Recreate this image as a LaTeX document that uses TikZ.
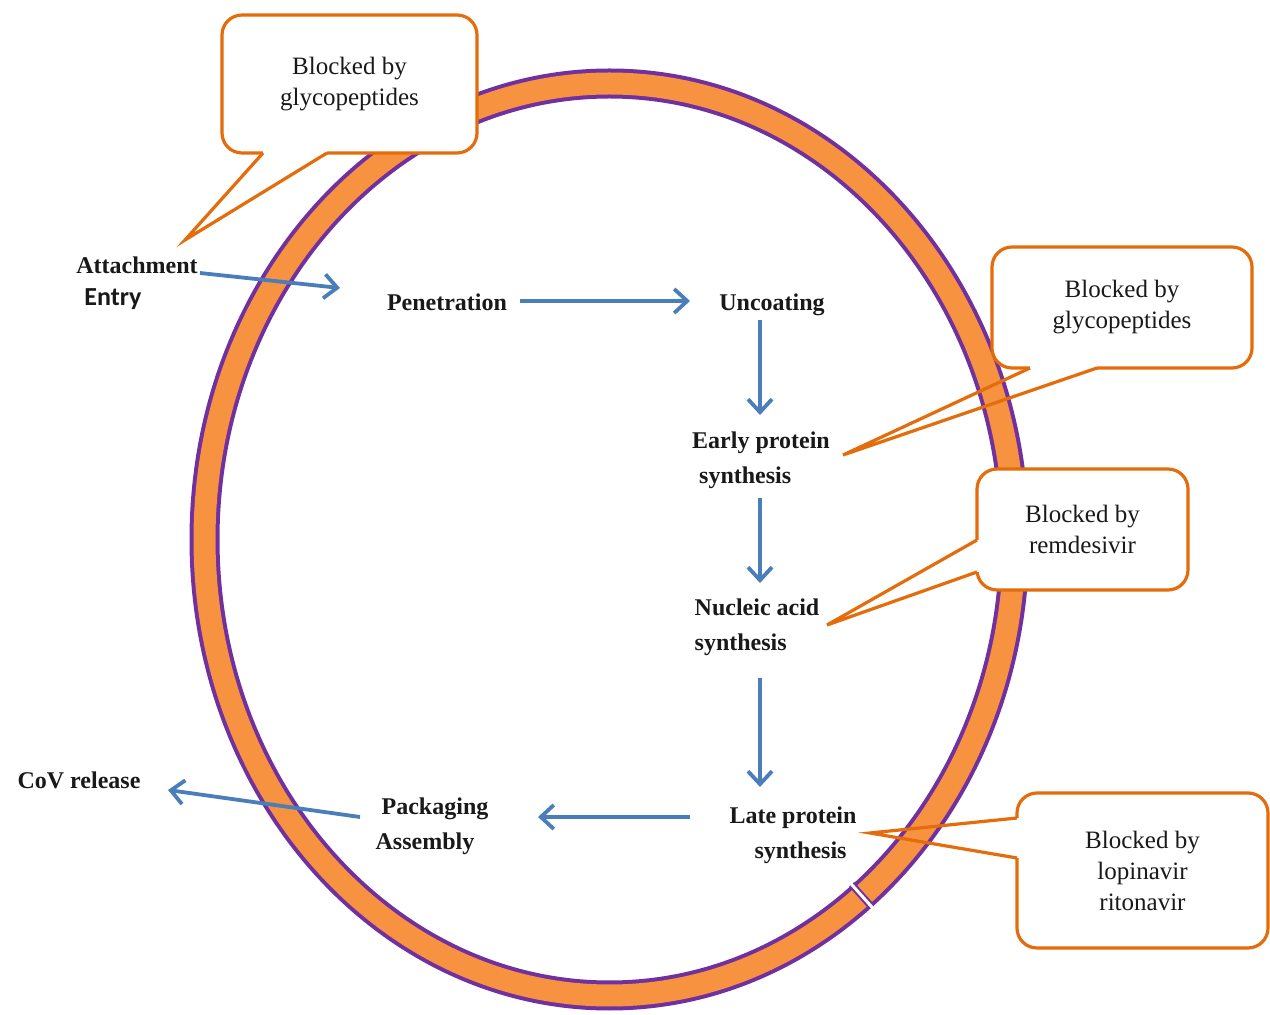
\documentclass[tikz,border=0pt]{standalone}
\usepackage{fontspec}
\setmainfont{Liberation Serif}
\newfontfamily\carl{Carlito}
\usetikzlibrary{arrows.meta,calc}
\definecolor{ringorange}{RGB}{246,146,64}
\definecolor{ringpurple}{RGB}{112,48,160}
\definecolor{callorange}{RGB}{228,108,10}
\definecolor{arrblue}{RGB}{74,126,187}
\begin{document}
\begin{tikzpicture}[x=0.5pt,y=-0.5pt,
  lbl/.style={font=\fontsize{12}{17.5}\selectfont\bfseries, inner sep=0pt, align=left, text=black!90},
  callbox/.style={draw=callorange, line width=1.6pt, fill=white, rounded corners=10pt,
    font=\fontsize{12.5}{15.5}\selectfont, align=center, inner sep=0pt, text=black!90},
  ptr/.style={draw=callorange, line width=1.6pt, line join=miter},
  erase/.style={draw=white, line width=2.4pt},
  arr/.style={draw=arrblue, line width=1.9pt, -{Straight Barb[length=6.5pt,width=12pt]}}
]
\useasboundingbox (0,0) rectangle (1270,1015);
\fill[white] (0,0) rectangle (1270,1015);

% ring
\draw[ringpurple, line width=15pt] (609.5,539.5) ellipse [x radius=202.5pt, y radius=228pt];
\draw[ringorange, line width=11pt] (609.5,539.5) ellipse [x radius=202.5pt, y radius=228pt];
% small break in the ring
\draw[ringpurple, line width=3.5pt] (851.6,884.4) -- (871.6,906.8);
\draw[white, line width=1.5pt] (849.6,882.2) -- (873.6,909.0);

% callouts
\node[callbox, minimum width=127.5pt, minimum height=69pt] (c1) at (349.5,84) {Blocked by\\glycopeptides};
\draw[erase] (263,153) -- (327,153);
\draw[ptr] (263,153) -- (185,240) -- (327,153);

\node[callbox, minimum width=130pt, minimum height=60.5pt] (c2) at (1122,307.5) {Blocked by\\glycopeptides};
\draw[erase] (1030,368) -- (1097,368);
\draw[ptr] (1030,368) -- (843,455) -- (1097,368);

\node[callbox, minimum width=105.5pt, minimum height=60.5pt] (c3) at (1082.5,529.5) {Blocked by\\remdesivir};
\draw[erase] (977,540) -- (977,572);
\draw[ptr] (977,540) -- (827,625) -- (977,572);

\node[callbox, minimum width=125.5pt, minimum height=77.5pt] (c4) at (1142.5,870.5) {Blocked by\\lopinavir\\ritonavir};
\draw[erase] (1017,818) -- (1017,858);
\draw[ptr] (1017,818) -- (870,833) -- (1017,858);

% labels
\node[lbl] (att) at (137,265) {Attachment};
\node[lbl, font=\carl\fontsize{13}{15}\selectfont\bfseries] (entry) at (113,299) {Entry};
\node[lbl] (pen) at (447,302) {Penetration};
\node[lbl] (unc) at (772,305) {Uncoating};
\node[lbl] (early) at (761,460) {Early protein\\\hspace*{3.5pt}synthesis};
\node[lbl] (nuc) at (757,627) {Nucleic acid\\synthesis};
\node[lbl] (late) at (793,835) {Late protein\\\hspace*{12.5pt}synthesis};
\node[lbl] (pack) at (432,826) {\hspace*{3pt}Packaging\\Assembly};
\node[lbl] (cov) at (79,780) {CoV release};

% arrows
\draw[arr] ($(att.center)+(63,8)$) -- ($(pen.center)+(-107,-14)$);
\draw[arr] ($(pen.center)+(73,-1)$) -- ($(unc.center)+(-82,-4)$);
\draw[arr] ($(unc.center)+(-12,15)$) -- ($(early.center)+(-1,-45)$);
\draw[arr] ($(early.center)+(-1,38)$) -- ($(nuc.center)+(3,-44)$);
\draw[arr] ($(nuc.center)+(3,51)$) -- ($(late.center)+(-33,-48)$);
\draw[arr] ($(late.center)+(-103,-18)$) -- ($(pack.center)+(106,-9)$);
\draw[arr] ($(pack.center)+(-72,-9)$) -- ($(cov.center)+(89,10)$);
\end{tikzpicture}
\end{document}
